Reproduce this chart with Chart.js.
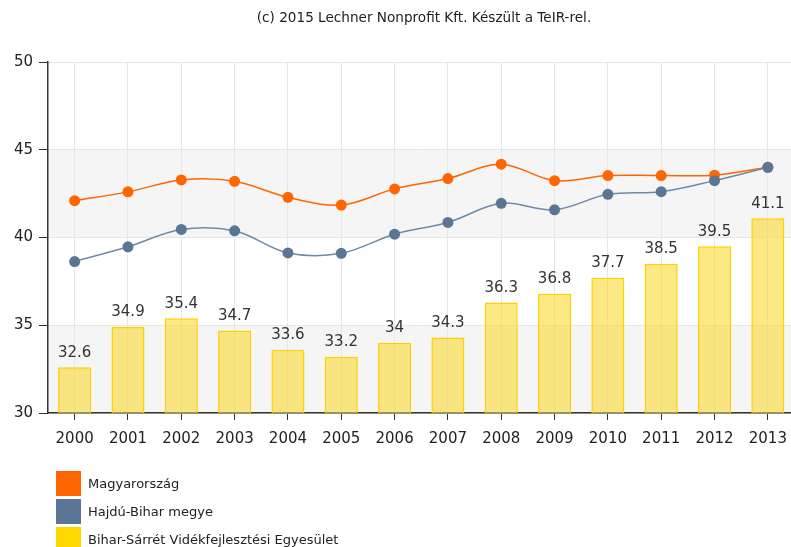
<!DOCTYPE html>
<html>
<head>
<meta charset="utf-8">
<script src="https://cdn.jsdelivr.net/npm/chart.js@4/dist/chart.umd.min.js"></script>
<style>
  body { margin: 0; overflow: hidden; background: #fff; }
  #wrap { position: relative; width: 800px; height: 547px; }
  #legend { position: absolute; left: 56px; top: 469px; font: 13px "DejaVu Sans", sans-serif; color: #222; }
  .item { display: flex; align-items: center; height: 28px; }
  .box { width: 25px; height: 25px; margin-right: 7px; }
</style>
</head>
<body>
<div id="wrap">
  <canvas id="chart" width="800" height="547"></canvas>
  <div id="legend"></div>
</div>
<script>
const years = ['2000','2001','2002','2003','2004','2005','2006','2007','2008','2009','2010','2011','2012','2013'];
const magyarorszag = [42.1, 42.6, 43.28, 43.2, 42.29, 41.85, 42.77, 43.36, 44.18, 43.24, 43.53, 43.53, 43.55, 44.0];
const hajduBihar = [38.63, 39.47, 40.46, 40.38, 39.12, 39.1, 40.19, 40.86, 41.95, 41.58, 42.46, 42.61, 43.24, 44.0];
const biharSarret = [32.6, 34.9, 35.4, 34.7, 33.6, 33.2, 34, 34.3, 36.3, 36.8, 37.7, 38.5, 39.5, 41.1];
const yTicks = [30, 35, 40, 45, 50];
const bands = [[30, 35], [40, 45]];
const titleText = '(c) 2015 Lechner Nonprofit Kft. Készült a TeIR-rel.';

const bandPlugin = {
  id: 'bands',
  beforeDraw(chart) {
    const { ctx, chartArea, scales } = chart;
    ctx.save();
    ctx.fillStyle = '#f5f5f5';
    bands.forEach(b => {
      const top = scales.y.getPixelForValue(b[1]);
      const bottom = scales.y.getPixelForValue(b[0]);
      ctx.fillRect(chartArea.left, top, chartArea.right - chartArea.left, bottom - top);
    });
    ctx.restore();
  }
};

const labelPlugin = {
  id: 'barLabels',
  afterDatasetsDraw(chart) {
    const ctx = chart.ctx;
    const meta = chart.getDatasetMeta(2);
    ctx.save();
    ctx.font = '15px "DejaVu Sans", sans-serif';
    ctx.fillStyle = '#333';
    ctx.textAlign = 'center';
    ctx.textBaseline = 'bottom';
    meta.data.forEach((bar, i) => {
      ctx.fillText(String(biharSarret[i]), bar.x, bar.y - 7);
    });
    ctx.restore();
  },
  afterDraw(chart) {
    const ctx = chart.ctx;
    ctx.save();
    ctx.font = '13.6px "DejaVu Sans", sans-serif';
    ctx.fillStyle = '#222';
    ctx.textAlign = 'center';
    ctx.textBaseline = 'middle';
    ctx.fillText(titleText, 424, 18);
    ctx.restore();
  }
};

const chart = new Chart(document.getElementById('chart'), {
  type: 'bar',
  data: {
    labels: years,
    datasets: [
      {
        type: 'line',
        label: 'Magyarország',
        data: magyarorszag,
        borderColor: '#FF6600',
        backgroundColor: '#FF6600',
        borderWidth: 1.5,
        pointRadius: 5.5,
        pointBorderWidth: 0,
        tension: 0.35,
        order: 2
      },
      {
        type: 'line',
        label: 'Hajdú-Bihar megye',
        data: hajduBihar,
        borderColor: '#7089A8',
        backgroundColor: '#5B7695',
        pointBackgroundColor: '#5B7695',
        borderWidth: 1.5,
        pointRadius: 5.5,
        pointBorderWidth: 0,
        tension: 0.35,
        order: 1
      },
      {
        label: 'Bihar-Sárrét Vidékfejlesztési Egyesület',
        data: biharSarret,
        backgroundColor: 'rgba(250, 218, 50, 0.6)',
        borderColor: '#FFD000',
        borderWidth: 1.5,
        barPercentage: 0.62,
        categoryPercentage: 1,
        order: 3
      }
    ]
  },
  options: {
    responsive: false,
    animation: false,
    layout: { padding: { top: 62, right: 2, bottom: 94, left: 0 } },
    plugins: {
      legend: { display: false },
      tooltip: { enabled: false }
    },
    scales: {
      x: {
        grid: { offset: false, color: '#e6e6e6', tickColor: '#333', tickLength: 7 },
        border: { color: '#333', width: 1.5 },
        ticks: { color: '#222', font: { family: '"DejaVu Sans", sans-serif', size: 15 }, padding: 10, maxRotation: 0, autoSkip: false },
        afterFit(scale) { scale.height = 40; }
      },
      y: {
        min: 30,
        max: 50,
        afterBuildTicks(scale) { scale.ticks = yTicks.map(v => ({ value: v })); },
        grid: { color: '#e6e6e6', tickColor: '#333', tickLength: 9 },
        border: { color: '#333', width: 1.5 },
        ticks: { color: '#222', font: { family: '"DejaVu Sans", sans-serif', size: 15 }, padding: 6 },
        afterFit(scale) { scale.width = 48; }
      }
    }
  },
  plugins: [bandPlugin, labelPlugin]
});

const legendColors = ['#FF6600', '#5B7695', '#FFD700'];
const legend = document.getElementById('legend');
chart.data.datasets.forEach((ds, i) => {
  const item = document.createElement('div');
  item.className = 'item';
  const box = document.createElement('span');
  box.className = 'box';
  box.style.background = legendColors[i];
  const txt = document.createElement('span');
  txt.textContent = ds.label;
  item.appendChild(box);
  item.appendChild(txt);
  legend.appendChild(item);
});
</script>
</body>
</html>
